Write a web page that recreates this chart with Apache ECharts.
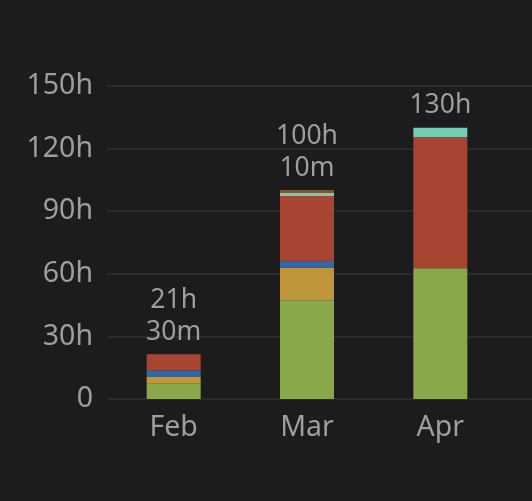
<!DOCTYPE html>
<html>
<head>
<meta charset="utf-8">
<script src="https://cdn.jsdelivr.net/npm/echarts@6/dist/echarts.min.js"></script>
<style>
html,body{margin:0;padding:0;background:#1c1c1e;}
#chart{width:532px;height:501px;}
</style>
</head>
<body>
<div id="chart"></div>
<script>
const categories = ['Feb', 'Mar', 'Apr'];
const seriesGreen  = [7.3, 47.3, 62.7];
const seriesOrange = [3.5, 15.6, 0];
const seriesBlue   = [2.8, 3.4, 0];
const seriesRed    = [7.9, 31.0, 62.9];
const seriesTeal   = [0, 1.44, 4.4];
const seriesBrown  = [0, 1.43, 0];
const yTicks = [0, 30, 60, 90, 120, 150];

const all = [seriesGreen, seriesOrange, seriesBlue, seriesRed, seriesTeal, seriesBrown];
const totals = categories.map((c, i) => all.reduce((s, a) => s + a[i], 0));

function fmtTotal(h) {
  const mins = Math.round(h * 60);
  const hh = Math.floor(mins / 60), mm = mins % 60;
  return mm ? hh + 'h\n' + mm + 'm' : hh + 'h';
}

const colors = ['#89a84a', '#c0963a', '#2f67ad', '#a84532', '#72cdb5', '#7a5a32'];
const names = ['Segment 1', 'Segment 2', 'Segment 3', 'Segment 4', 'Segment 5', 'Segment 6'];
const FONT = 'Noto Sans';
const TXT = '#9d9da2';

const chart = echarts.init(document.getElementById('chart'));
const barSeries = all.map((arr, k) => ({
  name: names[k], type: 'bar', stack: 'total', barWidth: 54,
  xAxisIndex: 0, yAxisIndex: 0,
  itemStyle: { color: colors[k] },
  data: arr
}));
barSeries.push({
  name: 'Total', type: 'bar', stack: 'total', barWidth: 54,
  xAxisIndex: 0, yAxisIndex: 0,
  data: categories.map(() => 0),
  itemStyle: { color: 'transparent' },
  label: {
    show: true, position: 'top', distance: 6,
    color: TXT, fontFamily: FONT, fontSize: 26.5, lineHeight: 32,
    formatter: p => fmtTotal(totals[p.dataIndex])
  }
});

chart.setOption({
  backgroundColor: '#1c1c1e',
  animation: false,
  grid: [
    { left: 107, right: 25, top: 86, bottom: 102 },
    { left: 107, right: 0, top: 86, bottom: 102 }
  ],
  xAxis: [
    {
      type: 'category', data: categories, gridIndex: 0,
      axisLine: { show: false }, axisTick: { show: false },
      axisLabel: { color: TXT, fontFamily: FONT, fontSize: 28.5, margin: 14 }
    },
    { type: 'value', gridIndex: 1, show: false, min: 0, max: 1 }
  ],
  yAxis: [
    {
      type: 'value', gridIndex: 0, min: yTicks[0], max: yTicks[yTicks.length - 1], interval: 30,
      splitLine: { show: false },
      axisLabel: {
        color: TXT, fontFamily: FONT, fontSize: 28.5, margin: 14,
        formatter: v => v === 0 ? '0' : v + 'h'
      }
    },
    {
      type: 'value', gridIndex: 1, min: yTicks[0], max: yTicks[yTicks.length - 1], interval: 30,
      axisLabel: { show: false }, axisLine: { show: false }, axisTick: { show: false },
      splitLine: { show: true, lineStyle: { color: '#313134', width: 1.5 } }
    }
  ],
  series: [
    { type: 'line', xAxisIndex: 1, yAxisIndex: 1, data: [], silent: true }
  ].concat(barSeries)
});
</script>
</body>
</html>
